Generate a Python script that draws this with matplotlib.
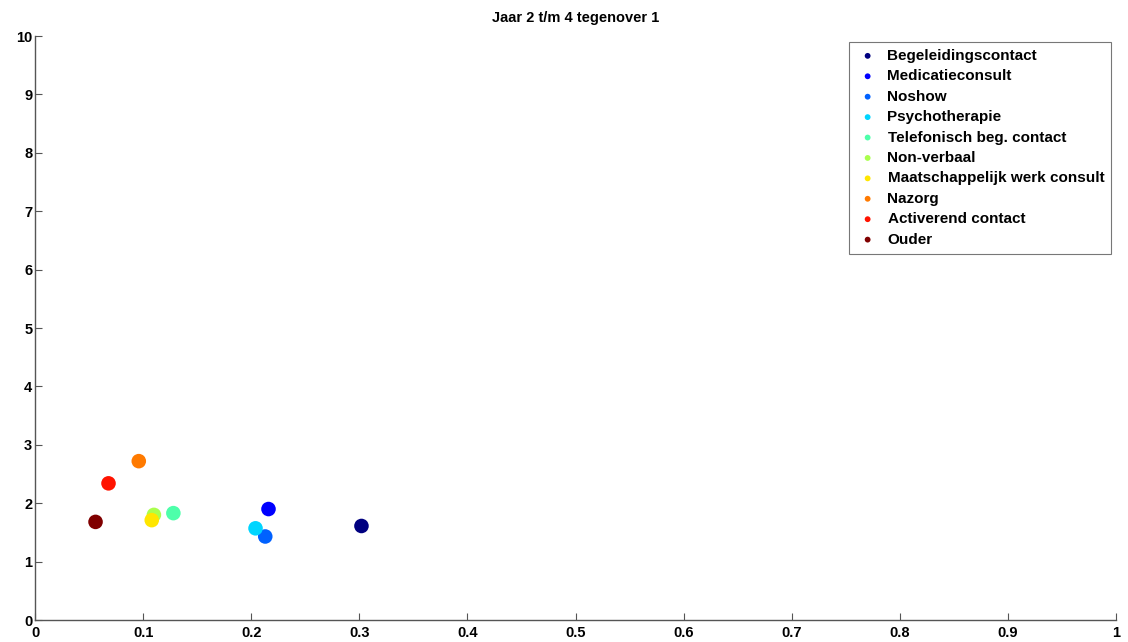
import numpy as np
import matplotlib
matplotlib.use("Agg")
import matplotlib.pyplot as plt

categories = ["Begeleidingscontact", "Medicatieconsult", "Noshow", "Psychotherapie",
              "Telefonisch beg. contact", "Non-verbaal", "Maatschappelijk werk consult",
              "Nazorg", "Activerend contact", "Ouder"]
x_vals = [0.302, 0.216, 0.213, 0.204, 0.128, 0.110, 0.108, 0.096, 0.068, 0.056]
y_vals = [1.61, 1.90, 1.43, 1.57, 1.83, 1.80, 1.71, 2.72, 2.34, 1.68]
xticks = [0, 0.1, 0.2, 0.3, 0.4, 0.5, 0.6, 0.7, 0.8, 0.9, 1]
xticklabels = ["0", "0.1", "0.2", "0.3", "0.4", "0.5", "0.6", "0.7", "0.8", "0.9", "1"]
yticks = list(range(0, 11))
title = "Jaar 2 t/m 4 tegenover 1"

plt.rcParams['font.family'] = ['Liberation Sans', 'DejaVu Sans']
fig = plt.figure(figsize=(11.28, 6.42), dpi=100)
ax = fig.add_axes([35/1128, 22/642, (1116-35)/1128, (620-36)/642])

colors = plt.cm.jet(np.linspace(0, 1, len(categories)))
for i, name in enumerate(categories):
    ax.scatter([x_vals[i]], [y_vals[i]], s=110, color=colors[i], label=name,
               edgecolors='none', zorder=3)

ax.set_xlim(0, 1)
ax.set_ylim(0, 10)
ax.set_xticks(xticks)
ax.set_xticklabels(xticklabels)
ax.set_yticks(yticks)
ax.tick_params(direction='in', length=5, width=0.8, color='#555555',
               labelsize=10.5, pad=2)
ax.tick_params(axis='x', pad=4)
for lbl in ax.get_xticklabels() + ax.get_yticklabels():
    lbl.set_fontweight('bold')
for s in ['top', 'right']:
    ax.spines[s].set_visible(False)
for s in ['left', 'bottom']:
    ax.spines[s].set_color('#555555')
    ax.spines[s].set_linewidth(1.0)

ax.set_title(title, fontsize=10.5, fontweight='bold', pad=10)

leg = ax.legend(loc='upper right', markerscale=0.4,
                prop={'size': 11, 'weight': 'bold'}, frameon=True, fancybox=False,
                borderpad=0.45, labelspacing=0.42, handletextpad=0.5, handlelength=1.6,
                borderaxespad=0)
leg.set_bbox_to_anchor((1111/1128, 1 - 42/642), transform=fig.transFigure)
leg.get_frame().set_edgecolor('#555555')
leg.get_frame().set_linewidth(0.8)

fig.savefig("out.png", dpi=100)
